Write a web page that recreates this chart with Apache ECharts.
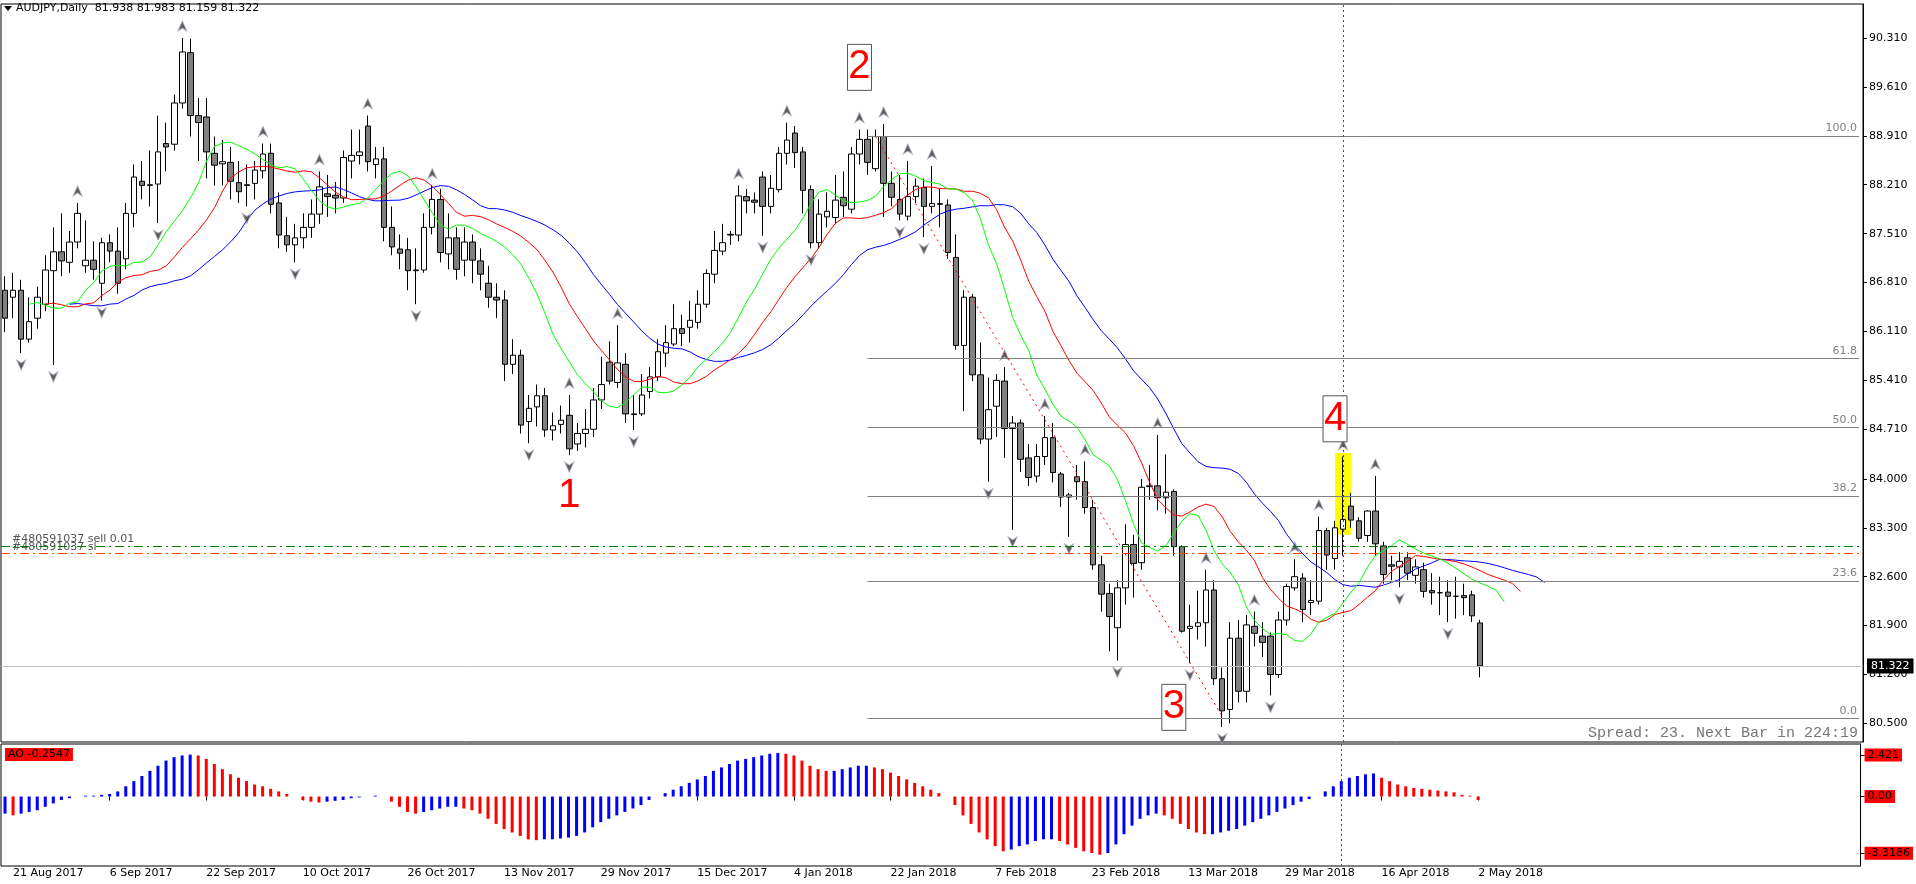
<!DOCTYPE html>
<html>
<head>
<meta charset="utf-8">
<script src="https://cdn.jsdelivr.net/npm/echarts@6/dist/echarts.min.js"></script>
<style>
  html, body { margin: 0; padding: 0; background: #fff; }
  #chart { width: 1916px; height: 884px; }
</style>
</head>
<body>
<div id="chart"></div>
<script>
// daily candles, [open, close, low, high]
const candles = [
  [86.70,86.30,86.10,86.90],[86.60,86.70,86.30,86.95],[86.70,86.00,85.80,86.85],[86.00,86.25,85.95,86.60],
  [86.30,86.60,86.15,86.75],[86.50,86.99,86.40,87.20],[86.98,87.25,85.63,87.60],[87.25,87.12,86.90,87.80],
  [87.10,87.39,86.95,87.55],[87.39,87.80,87.30,87.95],[87.05,87.13,86.95,87.70],[87.13,87.00,86.85,87.40],
  [86.80,87.38,86.55,87.45],[87.38,87.26,87.10,87.50],[87.26,86.80,86.65,87.60],[87.15,87.80,87.00,87.95],
  [87.80,88.32,87.60,88.50],[88.26,88.20,88.00,88.55],[88.20,88.21,87.90,88.70],[88.22,88.68,87.66,89.20],
  [88.80,88.75,88.40,89.10],[88.79,89.38,88.70,89.50],[89.38,90.11,89.30,90.31],[90.10,89.20,88.90,90.30],
  [89.20,89.10,88.55,89.45],[89.18,88.68,88.30,89.45],[88.66,88.49,88.20,88.90],[88.51,88.54,88.20,88.85],
  [88.53,88.26,88.00,88.75],[88.24,88.11,87.95,88.55],[88.20,88.21,87.90,88.50],[88.23,88.42,88.00,88.55],
  [88.41,88.65,88.30,88.80],[88.66,87.93,87.80,88.80],[87.95,87.49,87.30,88.10],[87.48,87.35,87.25,87.75],
  [87.35,87.45,87.10,87.65],[87.45,87.60,87.30,87.80],[87.60,87.79,87.45,88.00],[87.79,88.18,87.65,88.40],
  [88.08,88.04,87.75,88.35],[88.06,88.02,87.80,88.25],[88.02,88.60,87.95,88.70],[88.55,88.63,88.30,89.00],
  [88.63,88.68,88.50,89.00],[89.05,88.54,88.40,89.20],[88.50,88.58,88.30,88.75],[88.58,87.60,87.40,88.75],
  [87.60,87.32,87.20,87.90],[87.29,87.23,87.00,87.50],[87.28,86.98,86.70,87.45],[86.98,86.99,86.50,87.30],
  [86.99,87.60,86.95,87.80],[87.60,88.00,87.50,88.20],[88.00,87.24,87.10,88.15],[87.22,87.45,87.00,87.80],
  [87.45,87.00,86.85,87.60],[87.13,87.39,86.90,87.60],[87.39,87.13,86.80,87.50],[87.12,86.93,86.70,87.30],
  [86.80,86.60,86.45,87.05],[86.60,86.56,86.30,86.80],[86.56,85.64,85.40,86.70],[85.64,85.77,85.50,86.00],
  [85.77,84.77,84.65,85.85],[84.82,85.01,84.51,85.20],[85.03,85.19,84.75,85.35],[85.19,84.70,84.60,85.30],
  [84.70,84.76,84.55,84.95],[84.78,84.84,84.65,85.05],[84.91,84.43,84.34,85.20],[84.50,84.65,84.40,84.80],
  [84.65,84.71,84.45,85.00],[84.71,85.13,84.60,85.30],[85.13,85.35,85.00,85.75],[85.67,85.40,85.35,85.97],
  [85.38,85.66,85.30,86.20],[85.64,84.93,84.80,85.80],[84.92,84.93,84.70,85.20],[84.93,85.20,84.90,85.50],
  [85.25,85.46,85.15,85.60],[85.46,85.82,85.40,86.00],[85.80,85.95,85.60,86.20],[85.93,86.15,85.90,86.50],
  [86.15,86.08,85.90,86.35],[86.17,86.27,85.95,86.55],[86.24,86.50,86.15,86.70],[86.50,86.94,86.45,87.00],
  [86.93,87.27,86.80,87.55],[87.26,87.38,87.20,87.65],[87.49,87.50,87.35,87.55],[87.49,88.05,87.40,88.20],
  [88.04,87.98,87.80,88.15],[87.99,87.96,87.80,88.10],[88.32,87.90,87.48,88.40],[87.90,88.16,87.80,88.35],
  [88.14,88.66,88.10,88.75],[88.66,88.85,88.50,89.10],[88.95,88.67,88.45,89.05],[88.68,88.13,87.80,88.75],
  [88.14,87.38,87.30,88.20],[87.38,87.79,87.30,88.00],[87.75,87.83,87.60,88.10],[87.74,87.99,87.65,88.35],
  [88.03,87.91,87.75,88.40],[87.86,88.65,87.80,88.75],[88.65,88.86,88.50,89.00],[88.86,88.53,88.35,89.00],
  [88.44,88.90,88.40,89.00],[88.90,88.23,87.75,89.08],[88.23,88.03,87.90,88.40],[88.00,87.79,87.70,88.35],
  [87.76,88.04,87.70,88.55],[88.04,88.19,87.95,88.30],[88.17,87.90,87.46,88.30],[87.90,87.94,87.80,88.48],
  [87.93,87.94,87.60,88.15],[87.92,87.24,87.15,88.00],[87.17,85.91,85.85,87.50],[85.91,86.60,84.97,86.70],
  [86.60,85.49,85.40,86.65],[85.49,84.57,84.50,85.95],[84.57,84.99,83.96,85.45],[85.04,85.41,84.60,85.50],
  [85.40,84.72,84.30,85.60],[84.72,84.80,83.27,84.90],[84.80,84.28,84.10,84.85],[84.30,84.02,83.90,84.50],
  [84.04,84.32,83.95,84.50],[84.32,84.59,84.20,84.90],[84.59,84.09,83.95,84.80],[84.07,83.74,83.60,84.10],
  [83.74,83.77,83.17,83.80],[84.03,83.96,83.70,84.20],[83.96,83.59,83.50,84.25],[83.59,82.77,82.70,83.70],
  [82.77,82.35,82.10,82.90],[82.36,82.03,81.53,82.50],[81.87,82.44,81.40,82.55],[82.44,83.06,82.20,83.35],
  [83.06,82.79,82.30,83.20],[82.80,83.88,82.70,84.00],[83.89,83.90,83.70,84.20],
  [83.90,83.73,83.55,84.63],[83.73,83.81,83.50,84.35],[83.82,83.03,82.90,83.85],[83.03,81.82,81.80,83.05],
  [81.86,81.89,81.36,82.20],[81.89,81.94,81.70,82.40],[81.94,82.41,81.60,82.70],[82.41,81.14,81.05,82.55],
  [81.14,80.68,80.45,81.30],[80.70,81.72,80.50,81.95],[81.72,80.96,80.80,81.98],[80.96,81.91,80.80,82.05],
  [81.89,81.79,81.60,82.10],[81.75,81.66,81.45,81.95],[81.75,81.20,80.90,81.80],[81.20,81.98,81.15,82.10],
  [81.98,82.46,81.90,82.50],[82.44,82.60,82.40,82.85],[82.58,82.13,81.95,82.65],[82.23,82.26,82.05,82.55],
  [82.25,83.26,82.20,83.46],[83.26,82.91,82.70,83.30],[82.86,83.30,82.70,83.40],[83.28,83.42,82.90,84.32],
  [83.61,83.41,83.30,83.80],[83.40,83.15,83.10,83.45],[83.19,83.54,83.10,83.55],[83.54,83.07,82.90,84.04],
  [83.04,82.63,82.50,83.10],[82.77,82.75,82.55,82.90],[82.74,82.82,82.45,82.95],[82.87,82.65,82.55,82.95],
  [82.62,82.74,82.50,82.85],[82.70,82.39,82.30,82.80],[82.40,82.37,82.20,82.65],[82.37,82.37,82.05,82.60],
  [82.38,82.32,81.95,82.55],[82.32,82.32,82.00,82.60],[82.33,82.30,82.05,82.50],[82.34,82.04,81.95,82.40],
  [81.938,81.322,81.159,81.983]
];

// Awesome Oscillator
const aoValues = [
  -1.0,-1.1,-1.0,-0.9,-0.8,-0.6,-0.4,-0.2,-0.1,
  0.0,0.05,0.05,0.1,0.15,0.3,
  0.6,0.9,1.2,1.5,1.8,2.1,2.3,2.4,2.45,
  2.4,2.2,1.9,1.6,
  1.3,1.1,0.9,0.7,0.6,0.45,0.3,0.15,
  0.0,-0.2,-0.3,-0.35,-0.3,-0.25,-0.2,-0.1,-0.05,0.0,
  0.05,0.0,-0.3,-0.6,
  -0.9,-1.0,-0.9,-0.8,-0.7,-0.6,
  -0.6,-0.7,-0.8,-1.0,-1.3,-1.6,-1.9,
  -2.1,-2.3,-2.5,-2.55,-2.5,-2.5,-2.45,-2.4,-2.3,
  -2.1,-1.8,-1.5,-1.3,-1.1,-0.9,-0.7,-0.5,-0.2,
  0.0,0.2,0.4,0.6,0.8,1.0,1.2,1.5,1.7,1.9,2.1,2.2,2.3,2.4,2.5,2.55,2.5,2.4,
  2.1,1.8,1.6,1.5,1.5,1.6,
  1.7,1.8,1.8,1.7,1.6,1.4,
  1.2,1.0,0.8,0.6,0.4,0.2,
  0.0,-0.5,-1.1,-1.6,-2.1,-2.5,-2.9,
  -3.2,-3.1,-2.9,-2.8,-2.6,-2.5,-2.5,
  -2.6,-2.8,-3.0,-3.2,-3.3,-3.4,-3.3,-2.8,
  -2.2,-1.7,-1.3,-1.1,-1.0,
  -1.1,-1.3,-1.6,-1.9,-2.1,-2.2,-2.2,
  -2.1,-2.0,-1.9,-1.7,-1.5,-1.3,-1.1,
  -0.9,-0.7,-0.5,-0.3,-0.15,0.0,0.3,
  0.6,0.9,1.1,1.2,1.3,1.35,1.1,
  0.9,0.7,0.6,0.5,0.45,0.4,0.35,
  0.3,0.25,0.1,0.05,-0.2
];

const tickIdx = [1, 13, 25, 37, 50, 62, 74, 86, 98, 110, 123, 135, 147, 159, 171, 183];
const tickLabels = ['21 Aug 2017', '6 Sep 2017', '22 Sep 2017', '10 Oct 2017', '26 Oct 2017', '13 Nov 2017',
  '29 Nov 2017', '15 Dec 2017', '4 Jan 2018', '22 Jan 2018', '7 Feb 2018', '23 Feb 2018', '13 Mar 2018',
  '29 Mar 2018', '16 Apr 2018', '2 May 2018'];
const priceTicks = [80.5, 81.2, 81.9, 82.6, 83.3, 84.0, 84.71, 85.41, 86.11, 86.81, 87.51, 88.21, 88.91, 89.61, 90.31];
const aoTicks = [2.421, 0, -3.3186];

const fibLevels = [100.0, 61.8, 50.0, 38.2, 23.6, 0.0];
const fibHigh = 88.91, fibLow = 80.57, fibStart = 107;
const sellPrice = 83.025, slPrice = 82.94, lastPrice = 81.322;
const waveLabels = [[69.5, 83.76, '1', false], [106.3, 89.89, '2', true], [145, 80.73, '3', true], [164.7, 84.86, '4', true]];
const markedBar = 166;

const SLOTS = 231;
const cats = [];
for (let i = 0; i < SLOTS; i++) {
  const k = tickIdx.indexOf(i);
  cats.push(k >= 0 ? tickLabels[k] : '');
}

// Alligator: smoothed MA of median price, shifted forward
function smma(period, shift) {
  const out = new Array(SLOTS).fill(null);
  let v = null;
  candles.forEach((c, i) => {
    const m = (c[2] + c[3]) / 2;
    v = v === null ? m : (v * (period - 1) + m) / period;
    if (i + shift < SLOTS) out[i + shift] = +v.toFixed(4);
  });
  return out;
}

// Bill Williams fractals (5 bar highs / lows)
const fracUp = [], fracDown = [];
for (let i = 2; i < candles.length - 2; i++) {
  const h = candles[i][3], l = candles[i][2];
  if (h > candles[i - 1][3] && h > candles[i - 2][3] && h >= candles[i + 1][3] && h >= candles[i + 2][3]) fracUp.push([i, h]);
  if (l < candles[i - 1][2] && l < candles[i - 2][2] && l <= candles[i + 1][2] && l <= candles[i + 2][2]) fracDown.push([i, l]);
}

const aoData = aoValues.map((v, i) => ({
  value: v,
  itemStyle: { color: (i > 0 && v < aoValues[i - 1]) ? '#ff0000' : '#0000ff' }
}));

const fibLines = fibLevels.map(l => {
  const y = +(fibLow + (fibHigh - fibLow) * l / 100).toFixed(3);
  return [{ coord: [fibStart, y], label: { formatter: l.toFixed(1) } }, { coord: [SLOTS - 1, y] }];
});

const font = 'DejaVu Sans';
const arrowPath = 'path://M5,0 L10,10 L5,7 L0,10 Z';
const chart = echarts.init(document.getElementById('chart'));

chart.setOption({
  animation: false,
  backgroundColor: '#fff',
  grid: [
    { left: 1, right: 53, top: 4, height: 738, show: true, borderColor: '#000', borderWidth: 1 },
    { left: 1, right: 53, top: 744, height: 122, show: true, borderColor: '#000', borderWidth: 1 }
  ],
  xAxis: [
    { type: 'category', gridIndex: 0, data: cats, boundaryGap: true,
      axisLine: { show: false }, axisTick: { show: false }, axisLabel: { show: false }, splitLine: { show: false } },
    { type: 'category', gridIndex: 1, data: cats, boundaryGap: true,
      axisLine: { show: false },
      axisTick: { show: true, alignWithLabel: true, length: 4, lineStyle: { color: '#000' },
        interval: (i) => tickIdx.indexOf(i) >= 0 },
      axisLabel: { interval: 0, align: 'left', margin: 2, color: '#000', fontFamily: font, fontSize: 11 },
      splitLine: { show: false } }
  ],
  yAxis: [
    { type: 'value', gridIndex: 0, position: 'right', min: 80.234, max: 90.797,
      axisLine: { show: true, lineStyle: { color: '#000' } },
      axisTick: { show: true, customValues: priceTicks, length: 4, lineStyle: { color: '#000' } },
      axisLabel: { customValues: priceTicks, formatter: v => v.toFixed(3), color: '#000', fontFamily: font, fontSize: 11, margin: 6 },
      splitLine: { show: false } },
    { type: 'value', gridIndex: 1, position: 'right', min: -4.06, max: 3.07,
      axisLine: { show: true, lineStyle: { color: '#000' } },
      axisTick: { show: true, customValues: aoTicks, length: 4, lineStyle: { color: '#000' } },
      axisLabel: { customValues: aoTicks, formatter: v => '{r|' + (v === 0 ? '0.00' : String(v)) + '}',
        rich: { r: { backgroundColor: '#ff0000', color: '#000', fontFamily: font, fontSize: 11, padding: [1, 3] } }, margin: 4 },
      splitLine: { show: false } }
  ],
  series: [
    { type: 'candlestick', xAxisIndex: 0, yAxisIndex: 0, data: candles, barWidth: 6,
      itemStyle: { color: '#ffffff', color0: '#808080', borderColor: '#000000', borderColor0: '#000000', borderWidth: 1 },
      markLine: {
        symbol: 'none', silent: true, animation: false,
        data: [
          ...fibLines.map(d => [Object.assign({}, d[0], {
            lineStyle: { color: '#808080', width: 1, type: 'solid' },
            label: { show: true, position: 'insideEndTop', formatter: d[0].label.formatter, color: '#808080', fontFamily: font, fontSize: 11, distance: 2 }
          }), d[1]]),
          { yAxis: sellPrice, lineStyle: { color: '#008000', width: 1, type: [9, 4, 2, 4] }, label: { show: false } },
          { yAxis: slPrice, lineStyle: { color: '#ff4500', width: 1, type: [9, 4, 2, 4] }, label: { show: false } },
          { yAxis: lastPrice, lineStyle: { color: '#c0c0c0', width: 1, type: 'solid' },
            label: { show: true, position: 'end', formatter: lastPrice.toFixed(3), color: '#fff', backgroundColor: '#000',
              fontFamily: font, fontSize: 11, padding: [2, 4], distance: 4 } },
          [{ coord: [108, 88.9], lineStyle: { color: '#ff0000', width: 1, type: [2, 4] }, label: { show: false } }, { coord: [151, 80.6] }],
          { xAxis: markedBar, lineStyle: { color: '#ff0000', width: 1, type: [2, 3] }, label: { show: false } }
        ]
      } },
    { type: 'line', name: 'jaw', data: smma(13, 8), showSymbol: false, lineStyle: { color: '#0000ff', width: 1 }, z: 3 },
    { type: 'line', name: 'teeth', data: smma(8, 5), showSymbol: false, lineStyle: { color: '#ff0000', width: 1 }, z: 3 },
    { type: 'line', name: 'lips', data: smma(5, 3), showSymbol: false, lineStyle: { color: '#00ff00', width: 1 }, z: 3 },
    { type: 'scatter', name: 'fractal up', data: fracUp, symbol: arrowPath, symbolSize: [9, 10], symbolOffset: [0, -12],
      itemStyle: { color: '#333', borderColor: '#aab', borderWidth: 1 }, z: 4 },
    { type: 'scatter', name: 'fractal down', data: fracDown, symbol: arrowPath, symbolRotate: 180, symbolSize: [9, 10], symbolOffset: [0, 12],
      itemStyle: { color: '#333', borderColor: '#aab', borderWidth: 1 }, z: 4 },
    { type: 'custom', name: 'highlight', xAxisIndex: 0, yAxisIndex: 0, z: 1,
      data: [[markedBar, 84.37, 83.2]],
      renderItem: (params, api) => {
        const a = api.coord([api.value(0), api.value(1)]);
        const b = api.coord([api.value(0), api.value(2)]);
        return { type: 'rect', shape: { x: a[0] - 8, y: a[1], width: 16, height: b[1] - a[1] }, style: { fill: '#ffff00' } };
      } },
    { type: 'custom', name: 'waves', xAxisIndex: 0, yAxisIndex: 0, z: 5,
      data: waveLabels,
      renderItem: (params, api) => {
        const p = api.coord([api.value(0), api.value(1)]);
        const w = waveLabels[params.dataIndex];
        const children = [];
        if (w[3]) children.push({ type: 'rect', shape: { x: p[0] - 12, y: p[1] - 23, width: 24, height: 46 },
          style: { fill: '#fff', stroke: '#555', lineWidth: 1 } });
        children.push({ type: 'text', style: { x: p[0], y: p[1], text: w[2], fill: '#ff0000',
          font: '40px "Liberation Sans"', align: 'center', verticalAlign: 'middle' } });
        return { type: 'group', children };
      } },
    { type: 'bar', name: 'AO', xAxisIndex: 1, yAxisIndex: 1, data: aoData, barWidth: 3,
      markLine: { symbol: 'none', silent: true, data: [{ xAxis: markedBar, lineStyle: { color: '#ff0000', width: 1, type: [2, 3] }, label: { show: false } }] } }
  ],
  graphic: [
    { type: 'polygon', shape: { points: [[4, 6], [12, 6], [8, 11]] }, style: { fill: '#000' } },
    { type: 'text', left: 16, top: 3, style: { text: 'AUDJPY,Daily  81.938 81.983 81.159 81.322', fill: '#000', font: '11px "DejaVu Sans"' } },
    { type: 'text', left: 12, top: 534, style: { text: '#480591037 sell 0.01', fill: '#555', font: '11px "DejaVu Sans"' } },
    { type: 'text', left: 12, top: 542, style: { text: '#480591037 sl', fill: '#555', font: '11px "DejaVu Sans"' } },
    { type: 'text', right: 58, top: 726, style: { text: 'Spread: 23. Next Bar in 224:19', fill: '#777', font: '15px "Liberation Mono"' } },
    { type: 'text', left: 5, top: 748, style: { text: 'AO -0.2547', fill: '#000', backgroundColor: '#ff0000', padding: [1, 3], font: '11px "DejaVu Sans"' } }
  ]
});
</script>
</body>
</html>
